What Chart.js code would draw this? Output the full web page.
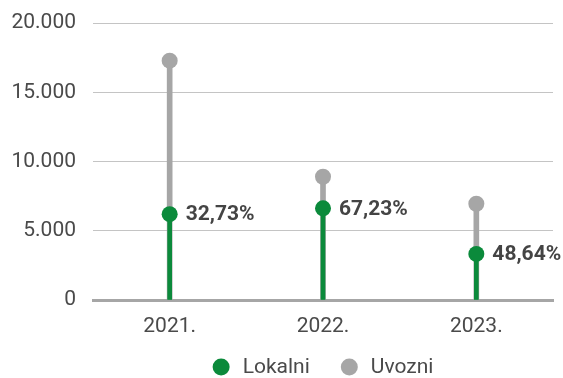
<!DOCTYPE html>
<html>
<head>
<meta charset="utf-8">
<script src="https://cdn.jsdelivr.net/npm/chart.js@4/dist/chart.umd.min.js"></script>
<style>
  html, body { margin: 0; padding: 0; background: #fff; }
  #wrap { width: 563px; height: 378px; position: relative; }
</style>
</head>
<body>
<div id="wrap"><canvas id="c" width="563" height="378"></canvas></div>
<script>
// Years on the category axis
const categories = ['2021.', '2022.', '2023.'];
// Local production (green) and imports (gray)
const lokalni = [6200, 6620, 3330];
const uvozni = [17280, 8900, 6950];
// Share labels shown beside the green points
const shareLabels = ['32,73%', '67,23%', '48,64%'];
// Value axis labels
const yTickLabels = ['0', '5.000', '10.000', '15.000', '20.000'];

const GREEN = '#0b8a3b';
const GRAY = '#a6a6a6';
const TEXT = '#4a4a4a';
const FONT = 'Roboto';

// Writes the share labels to the right of each green point
const shareLabelPlugin = {
  id: 'shareLabels',
  afterDatasetsDraw(chart) {
    const meta = chart.getDatasetMeta(3);
    const ctx = chart.ctx;
    ctx.save();
    ctx.font = 'bold 21px ' + FONT;
    ctx.fillStyle = '#444444';
    ctx.textAlign = 'left';
    ctx.textBaseline = 'middle';
    meta.data.forEach((pt, i) => {
      ctx.fillText(shareLabels[i], pt.x + 16, pt.y + 1);
    });
    ctx.restore();
  }
};

// Legend row under the axis
const legendPlugin = {
  id: 'customLegend',
  afterDraw(chart) {
    const ctx = chart.ctx;
    const items = [
      { text: 'Lokalni', color: GREEN },
      { text: 'Uvozni', color: GRAY }
    ];
    ctx.save();
    ctx.font = '21px ' + FONT;
    const r = 8.5, gapText = 21.5, gapItem = 31;
    // each item spans from the dot's left edge to the end of its text
    const widths = items.map(it => r + gapText + ctx.measureText(it.text).width);
    const total = widths.reduce((a, b) => a + b, 0) + gapItem * (items.length - 1);
    const ca = chart.chartArea;
    let x = (ca.left + ca.right) / 2 - total / 2;
    const y = 367;
    items.forEach((it, i) => {
      ctx.fillStyle = it.color;
      ctx.beginPath();
      ctx.arc(x + r, y, r, 0, Math.PI * 2);
      ctx.fill();
      ctx.fillStyle = TEXT;
      ctx.textAlign = 'left';
      ctx.textBaseline = 'middle';
      ctx.fillText(it.text, x + r + gapText, y + 1);
      x += widths[i] + gapItem;
    });
    ctx.restore();
  }
};

new Chart(document.getElementById('c'), {
  data: {
    labels: categories,
    datasets: [
      { type: 'bar', label: 'Uvozni', data: uvozni, backgroundColor: GRAY, barThickness: 5, grouped: false, order: 4 },
      { type: 'bar', label: 'Lokalni', data: lokalni, backgroundColor: GREEN, barThickness: 4, grouped: false, order: 3 },
      { type: 'line', label: 'Uvozni', data: uvozni, showLine: false, pointRadius: 8, pointHoverRadius: 8,
        pointBackgroundColor: GRAY, pointBorderWidth: 0, order: 2 },
      { type: 'line', label: 'Lokalni', data: lokalni, showLine: false, pointRadius: 8, pointHoverRadius: 8,
        pointBackgroundColor: GREEN, pointBorderWidth: 0, order: 1 }
    ]
  },
  options: {
    responsive: false,
    animation: false,
    layout: { padding: { top: 23, right: 10, bottom: 39, left: 0 } },
    plugins: {
      legend: { display: false },
      tooltip: { enabled: false }
    },
    scales: {
      x: {
        offset: true,
        afterFit(scale) { scale.height = 39; scale.paddingLeft = 0; scale.paddingRight = 0; },
        grid: { display: false, drawTicks: false },
        border: { display: true, color: GRAY, width: 3 },
        ticks: { color: TEXT, font: { family: FONT, size: 21 }, padding: 14 }
      },
      y: {
        min: 0,
        max: 20000,
        afterFit(scale) { scale.width = 93; scale.paddingTop = 0; scale.paddingBottom = 0; },
        grid: { color: '#c4c4c4', lineWidth: 1, drawTicks: false },
        border: { display: false },
        ticks: {
          stepSize: 5000,
          color: TEXT,
          font: { family: FONT, size: 21 },
          padding: 17,
          callback: (v, i) => yTickLabels[i]
        }
      }
    }
  },
  plugins: [shareLabelPlugin, legendPlugin]
});
</script>
</body>
</html>
